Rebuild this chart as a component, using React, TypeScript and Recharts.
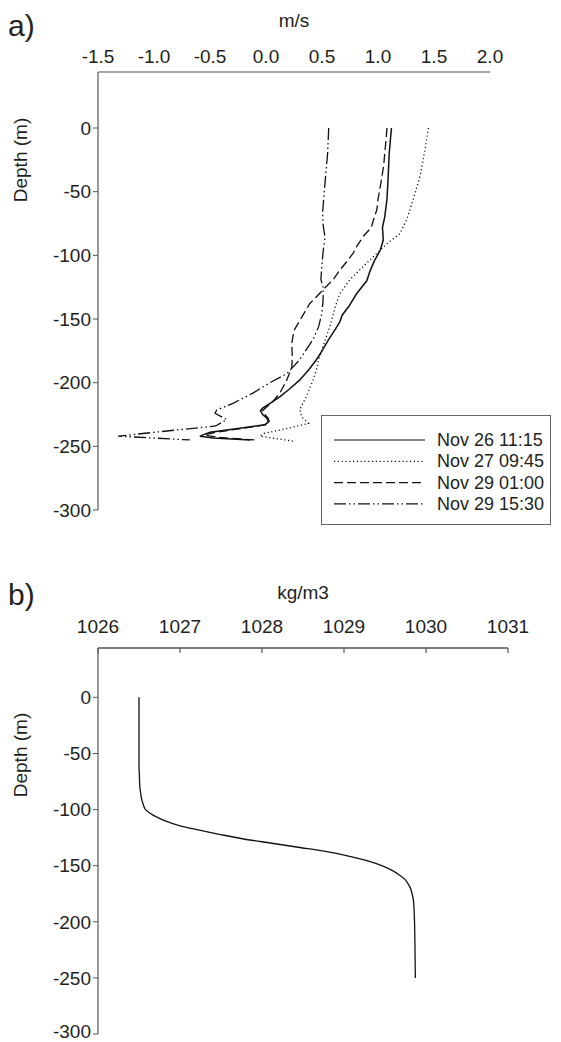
import React from 'react';
import { LineChart, Line, XAxis, YAxis, Legend } from 'recharts';

const FONT = '"Liberation Sans", Arial, sans-serif';
const TEXT = '#231f20';
const AXIS = '#555555';

const speedTicks = [-1.5, -1.0, -0.5, 0, 0.5, 1.0, 1.5, 2.0];
const densityTicks = [1026, 1027, 1028, 1029, 1030, 1031];
const depthTicks = [0, -50, -100, -150, -200, -250, -300];

const seriesLabels = ['Nov 26 11:15', 'Nov 27 09:45', 'Nov 29 01:00', 'Nov 29 15:30'];
const seriesDash = ['', '1.2 2.6', '9 4', '12 3 1.5 3 1.5 3'];

const nov26Depth = [0, -20, -40, -56, -70, -78, -88, -96, -104, -112, -120, -130, -140, -147, -152, -158, -166, -175, -182, -190, -198, -205, -211, -216, -220, -222, -225, -228, -231, -233, -236, -239, -242, -243.5, -245];
const nov26Speed = [1.12, 1.1, 1.09, 1.08, 1.06, 1.04, 1.047, 1.02, 0.97, 0.93, 0.9, 0.81, 0.74, 0.68, 0.66, 0.62, 0.56, 0.5, 0.45, 0.38, 0.3, 0.21, 0.125, 0.04, -0.03, -0.05, -0.03, 0.01, 0.02, -0.01, -0.25, -0.5, -0.59, -0.47, -0.14];

const nov27Depth = [0, -17, -38, -56, -72, -83, -90, -96, -106, -119, -130, -140, -156, -166, -174, -182, -190, -198, -211, -221, -227, -232, -236, -240, -242, -246];
const nov27Speed = [1.45, 1.42, 1.375, 1.315, 1.256, 1.196, 1.09, 1.018, 0.9, 0.75, 0.66, 0.62, 0.57, 0.53, 0.5, 0.47, 0.45, 0.42, 0.36, 0.3, 0.32, 0.38, 0.185, -0.024, -0.054, 0.25];

const nov29aDepth = [0, -4, -30, -41, -56, -64, -72, -78, -85, -93, -98, -104, -111.5, -119, -127, -138, -150, -159, -169, -180, -188, -198, -208, -215, -219.5, -222, -225, -228, -231, -233, -236, -239, -241, -243, -245];
const nov29aSpeed = [1.08, 1.077, 1.05, 1.03, 1.0, 0.99, 0.96, 0.94, 0.87, 0.81, 0.78, 0.73, 0.66, 0.6, 0.51, 0.39, 0.31, 0.25, 0.23, 0.235, 0.23, 0.185, 0.125, 0.06, 0.0, -0.03, -0.01, 0.02, 0.03, 0.0, -0.22, -0.45, -0.55, -0.42, -0.1];

const nov29bDepth = [0, -20, -30, -50, -67, -76, -86, -97, -110, -119, -125, -135, -145, -156, -166, -174, -182, -193, -200, -208, -216, -221.5, -224, -229, -234, -239, -242, -245];
const nov29bSpeed = [0.56, 0.55, 0.54, 0.52, 0.505, 0.51, 0.527, 0.51, 0.497, 0.49, 0.51, 0.51, 0.5, 0.47, 0.42, 0.36, 0.3, 0.185, 0.036, -0.113, -0.29, -0.44, -0.455, -0.35, -0.45, -1.0, -1.32, -0.68];

const densityDepth = [0, -20, -40, -60, -70, -80, -85, -90, -95, -100, -103, -106, -110, -114, -118, -122, -126, -130, -134, -138, -142, -146, -150, -154, -158, -162, -166, -170, -175, -180, -190, -200, -220, -250];
const densityValue = [1026.5, 1026.5, 1026.5, 1026.5, 1026.505, 1026.51, 1026.52, 1026.53, 1026.55, 1026.58, 1026.63, 1026.7, 1026.82, 1026.98, 1027.22, 1027.48, 1027.76, 1028.12, 1028.48, 1028.82, 1029.08, 1029.3, 1029.46, 1029.58, 1029.67, 1029.74, 1029.78, 1029.81, 1029.83, 1029.845, 1029.855, 1029.86, 1029.865, 1029.87];

const toRows = (d: number[], v: number[]) => d.map((depth, i) => ({ depth, v: v[i] }));

const speedSeries = [
  toRows(nov26Depth, nov26Speed),
  toRows(nov27Depth, nov27Speed),
  toRows(nov29aDepth, nov29aSpeed),
  toRows(nov29bDepth, nov29bSpeed),
];
const densityRows = toRows(densityDepth, densityValue);

const TopTick = (props: any) => {
  const { x, y, payload, fmt, mark, lift } = props;
  return (
    <g>
      {mark ? <line x1={x} x2={x} y1={y + 8} y2={y + 13} stroke={AXIS} strokeWidth={1.2} /> : null}
      <text x={x} y={y + 8 - lift} textAnchor="middle" fontFamily={FONT} fontSize={19} fill={TEXT}>
        {fmt(payload.value)}
      </text>
    </g>
  );
};

const LegendBox = () => (
  <div
    style={{
      width: 230,
      height: 110,
      border: '1px solid #666',
      background: '#fff',
      boxSizing: 'border-box',
      position: 'relative',
    }}
  >
    <svg width={230} height={110} style={{ position: 'absolute', left: 0, top: 0 }}>
      {seriesLabels.map((lab, i) => {
        const cy = 24 + i * 21.3;
        return (
          <g key={lab}>
            <line x1={12} x2={103} y1={cy} y2={cy} stroke="#111" strokeWidth={1.2} strokeDasharray={seriesDash[i] || undefined} />
            <text x={115} y={cy + 6} fontFamily={FONT} fontSize={18} fill={TEXT}>{lab}</text>
          </g>
        );
      })}
    </svg>
  </div>
);

const yTickStyle = { fontFamily: FONT, fontSize: 19, fill: TEXT };

export default function App() {
  return (
    <div style={{ position: 'absolute', left: 0, top: 0, width: 561, height: 1042, background: '#fff' }}>
      <div style={{ position: 'absolute', left: 0, top: 0 }}>
        <LineChart layout="vertical" width={561} height={530} margin={{ top: 42, right: 71, bottom: 20, left: 0 }}>
          <XAxis
            type="number"
            orientation="top"
            domain={[-1.5, 2.0]}
            ticks={speedTicks}
            height={30}
            allowDataOverflow
            axisLine={{ stroke: AXIS, strokeWidth: 1.2 }}
            tickLine={false}
            tick={(p: any) => <TopTick {...p} fmt={(v: number) => v.toFixed(1)} mark={false} lift={9} />}
          />
          <YAxis
            type="number"
            dataKey="depth"
            domain={[-300, 44]}
            ticks={depthTicks}
            reversed
            width={98}
            allowDataOverflow
            axisLine={{ stroke: AXIS, strokeWidth: 1.2 }}
            tickLine={{ stroke: AXIS }}
            tickSize={5}
            tick={yTickStyle}
          />
          {speedSeries.map((rows, i) => (
            <Line
              key={seriesLabels[i]}
              data={rows}
              dataKey="v"
              name={seriesLabels[i]}
              type="linear"
              stroke="#111"
              strokeWidth={i === 0 ? 1.5 : 1.3}
              strokeDasharray={seriesDash[i] || undefined}
              dot={false}
              activeDot={false}
              isAnimationActive={false}
            />
          ))}
          <Legend
            layout="horizontal"
            verticalAlign="middle"
            align="center"
            wrapperStyle={{ position: 'absolute', left: 321, top: 415, width: 230, height: 110 }}
            content={() => <LegendBox />}
          />
        </LineChart>
      </div>
      <div style={{ position: 'absolute', left: 0, top: 530 }}>
        <LineChart layout="vertical" width={561} height={512} margin={{ top: 88, right: 53, bottom: 8, left: 0 }}>
          <XAxis
            type="number"
            orientation="top"
            domain={[1026, 1031]}
            ticks={densityTicks}
            height={30}
            allowDataOverflow
            axisLine={{ stroke: AXIS, strokeWidth: 1.5 }}
            tickLine={false}
            tick={(p: any) => <TopTick {...p} fmt={(v: number) => String(v)} mark={true} lift={15} />}
          />
          <YAxis
            type="number"
            dataKey="depth"
            domain={[-300, 44]}
            ticks={depthTicks}
            reversed
            width={98}
            allowDataOverflow
            axisLine={{ stroke: AXIS, strokeWidth: 1.2 }}
            tickLine={{ stroke: AXIS }}
            tickSize={5}
            tick={yTickStyle}
          />
          <Line
            data={densityRows}
            dataKey="v"
            name="Density"
            type="monotone"
            stroke="#111"
            strokeWidth={1.3}
            dot={false}
            activeDot={false}
            isAnimationActive={false}
          />
        </LineChart>
      </div>
      <svg width={561} height={1042} style={{ position: 'absolute', left: 0, top: 0, pointerEvents: 'none' }}>
        <text x={8} y={36} fontFamily={FONT} fontSize={30} fill={TEXT}>a)</text>
        <text x={294} y={27} textAnchor="middle" fontFamily={FONT} fontSize={19} fill={TEXT}>m/s</text>
        <text x={0} y={0} transform="translate(27,160) rotate(-90)" textAnchor="middle" fontFamily={FONT} fontSize={19} fill={TEXT}>Depth (m)</text>
        <text x={8} y={605} fontFamily={FONT} fontSize={30} fill={TEXT}>b)</text>
        <text x={303} y={599} textAnchor="middle" fontFamily={FONT} fontSize={19} fill={TEXT}>kg/m3</text>
        <text x={0} y={0} transform="translate(27,755) rotate(-90)" textAnchor="middle" fontFamily={FONT} fontSize={19} fill={TEXT}>Depth (m)</text>
      </svg>
    </div>
  );
}
